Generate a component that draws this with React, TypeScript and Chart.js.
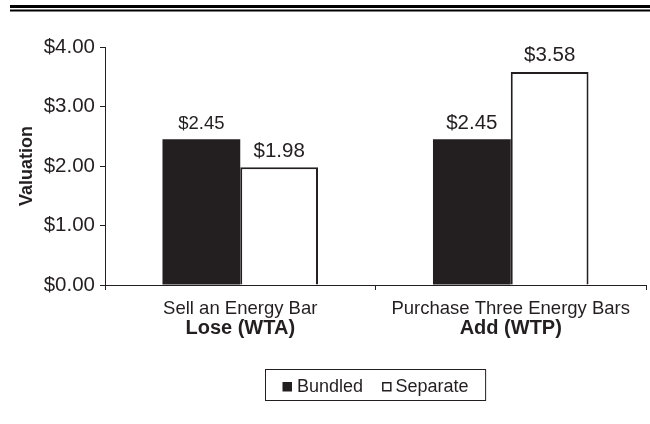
import React, { useEffect, useRef } from "react";
import { Chart, registerables } from "chart.js";

Chart.register(...registerables);

const categories = ["Sell an Energy Bar", "Purchase Three Energy Bars"];
const categorySubLabels = ["Lose (WTA)", "Add (WTP)"];
const seriesNames = ["Bundled", "Separate"];
const bundledValues = [2.45, 2.45];
const separateValues = [1.98, 3.58];
const yTickValues = [0, 1, 2, 3, 4];

const INK = "#231f20";
const FONT = '"Liberation Sans", Arial, Helvetica, sans-serif';
const money = (v: number) => "$" + v.toFixed(2);

const topRulePlugin = {
  id: "topRule",
  beforeDraw(chart: any) {
    const ctx = chart.ctx;
    ctx.save();
    ctx.fillStyle = "#000";
    ctx.fillRect(10, 5, chart.width - 10, 3);
    ctx.fillRect(10, 9.5, chart.width - 10, 2);
    ctx.restore();
  },
};

const dataLabelPlugin = {
  id: "dataLabels",
  afterDatasetsDraw(chart: any) {
    const ctx = chart.ctx;
    ctx.save();
    ctx.fillStyle = INK;
    ctx.textAlign = "center";
    ctx.textBaseline = "alphabetic";
    chart.data.datasets.forEach((ds: any, di: number) => {
      const meta = chart.getDatasetMeta(di);
      meta.data.forEach((bar: any, i: number) => {
        const size = di === 0 && i === 0 ? 18.5 : 20.5;
        ctx.font = `${size}px ${FONT}`;
        ctx.fillText(money(ds.data[i]), bar.x, bar.y - 10.5);
      });
    });
    ctx.restore();
  },
};

const boxLegendPlugin = {
  id: "boxLegend",
  afterDraw(chart: any) {
    const ctx = chart.ctx;
    const area = chart.chartArea;
    ctx.save();
    ctx.font = `18px ${FONT}`;
    const ds = chart.data.datasets;
    const w1 = ctx.measureText(ds[0].label).width;
    const w2 = ctx.measureText(ds[1].label).width;
    const box = 9.5;
    const gap1 = 5;
    const gap2 = 4;
    const itemGap = 19;
    const content = box + gap1 + w1 + itemGap + box + gap2 + w2;
    const frameW = content + 34;
    const cx = (area.left + area.right) / 2;
    const left = Math.round(cx - frameW / 2) + 0.5;
    const top = 369.5;
    const frameH = 31;
    ctx.strokeStyle = INK;
    ctx.lineWidth = 1;
    ctx.strokeRect(left, top, frameW, frameH);
    let x = left + 17;
    const boxTop = 382;
    ctx.fillStyle = ds[0].backgroundColor;
    ctx.fillRect(x, boxTop, box, box);
    x += box + gap1;
    ctx.fillStyle = INK;
    ctx.textBaseline = "alphabetic";
    ctx.textAlign = "left";
    ctx.fillText(ds[0].label, x, 391.5);
    x += w1 + itemGap;
    ctx.fillStyle = "#fff";
    ctx.fillRect(x, boxTop, box, box);
    ctx.strokeStyle = INK;
    ctx.lineWidth = 1.5;
    ctx.strokeRect(x + 0.75, boxTop + 0.75, box - 1.5, box - 1.5);
    x += box + gap2;
    ctx.fillStyle = INK;
    ctx.fillText(ds[1].label, x, 391.5);
    ctx.restore();
  },
};

const noLabelClip = (scale: any) => {
  scale._computeLabelArea = () => undefined;
};

export default function App() {
  const ref = useRef<HTMLCanvasElement | null>(null);

  useEffect(() => {
    if (!ref.current) return;
    const chart = new Chart(ref.current, {
      type: "bar",
      data: {
        labels: categories,
        datasets: [
          {
            label: seriesNames[0],
            data: bundledValues,
            backgroundColor: INK,
            borderColor: INK,
            borderWidth: 0,
            categoryPercentage: 0.575,
            barPercentage: 1,
          },
          {
            label: seriesNames[1],
            data: separateValues,
            backgroundColor: "#ffffff",
            borderColor: INK,
            borderWidth: 2,
            categoryPercentage: 0.575,
            barPercentage: 1,
          },
        ],
      },
      options: {
        animation: false,
        responsive: false,
        devicePixelRatio: 1,
        layout: { padding: { top: 47, right: 4, bottom: 84, left: 0 } },
        plugins: {
          legend: { display: false },
          tooltip: { enabled: false },
        },
        scales: {
          x: {
            type: "category",
            position: "bottom",
            offset: true,
            grid: {
              offset: true,
              drawOnChartArea: false,
              drawTicks: true,
              tickLength: 5,
              color: INK,
            },
            border: { display: true, color: INK, width: 1 },
            ticks: {
              color: INK,
              font: { family: FONT, size: 18.5 },
              padding: 7.5,
              maxRotation: 0,
              autoSkip: false,
            },
            afterFit(scale: any) {
              scale.height = 30;
              noLabelClip(scale);
            },
          },
          x2: {
            type: "category",
            position: "bottom",
            labels: categorySubLabels,
            offset: true,
            grid: { display: false, drawTicks: false },
            border: { display: false },
            ticks: {
              color: INK,
              font: { family: FONT, size: 20, weight: "bold" },
              padding: 1.5,
              maxRotation: 0,
              autoSkip: false,
            },
            afterFit(scale: any) {
              scale.height = 25;
              noLabelClip(scale);
            },
          },
          y: {
            min: 0,
            max: 4,
            afterBuildTicks(scale: any) {
              scale.ticks = yTickValues.map((v) => ({ value: v }));
            },
            grid: {
              drawOnChartArea: false,
              drawTicks: true,
              tickLength: 5,
              color: INK,
            },
            border: { display: true, color: INK, width: 1 },
            ticks: {
              color: INK,
              font: { family: FONT, size: 20.5 },
              padding: 5,
              callback: (v: any) => money(Number(v)),
            },
            title: {
              display: true,
              text: "Valuation",
              color: INK,
              font: { family: FONT, size: 18, weight: "bold" },
              padding: { top: 16.5, bottom: 0 },
            },
            afterFit(scale: any) {
              scale.width = 105;
            },
          },
        },
      },
      plugins: [topRulePlugin, dataLabelPlugin, boxLegendPlugin],
    } as any);
    return () => chart.destroy();
  }, []);

  return (
    <div style={{ position: "absolute", left: 0, top: 0, width: 650, height: 424, background: "#fff" }}>
      <canvas ref={ref} width={650} height={424} />
    </div>
  );
}
